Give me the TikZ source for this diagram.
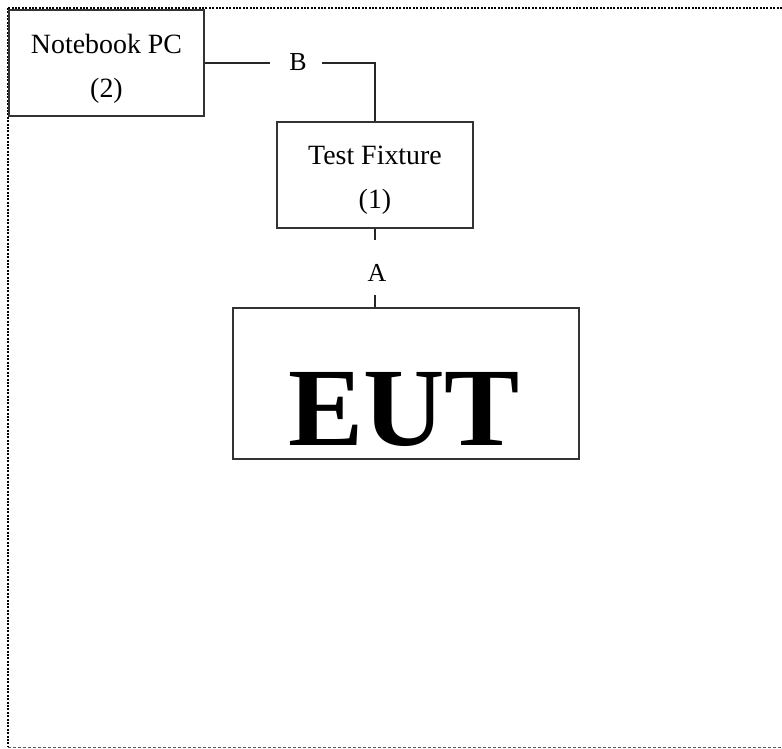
\documentclass[tikz,border=0pt]{standalone}
\usepackage{fontspec}
\setmainfont{Liberation Serif}
\usepackage{graphicx}
\begin{document}
\begin{tikzpicture}[x=1bp,y=-1bp,
  box/.style={draw=black!80,line width=1.3bp,rectangle,inner sep=0pt},
  boxtext/.style={align=center,inner sep=0pt,font=\fontsize{28}{44}\selectfont},
  lbl/.style={inner sep=0pt,font=\fontsize{26}{26}\selectfont},
  conn/.style={draw=black!85,line width=1.1bp}]
\useasboundingbox (0,0) rectangle (782,749);
% frame
\coordinate (f1) at (782,8);
\coordinate (f2) at (8,8);
\coordinate (f3) at (8,747);
\coordinate (f4) at (782,747);
\draw[line width=2bp,dash pattern=on 2bp off 1.4bp] (f1) -- (f2);
\draw[line width=2.5bp,dash pattern=on 2bp off 1.4bp] (f2) -- (f3);
\draw[black!65,line width=1bp,dash pattern=on 3bp off 2bp] (f3) -- (f4);
% boxes
\node[box,minimum width=195bp,minimum height=106bp] (nb) at (106.5,63) {};
\node[boxtext] (nbt) at (106.5,68.5) {Notebook PC\\(2)};
\node[box,minimum width=196bp,minimum height=106bp] (tf) at (375,175) {};
\node[boxtext] (tft) at (375,180.5) {Test Fixture\\(1)};
\node[box,minimum width=346bp,minimum height=151bp] (eut) at (406,383.5) {};
\node[inner sep=0pt,font=\bfseries\fontsize{112}{112}\selectfont] (eutt) at (404,409) {\scalebox{1.01}[1]{EUT}};
% labels
\node[lbl] (B) at (298,62) {B};
\node[lbl] (A) at (377,273) {A};
\coordinate (b1) at (270,63);
\coordinate (b2) at (322,63);
\coordinate (a1) at (375,240);
\coordinate (a2) at (375,295);
% connectors
\draw[conn] (nb.east) -- (b1);
\draw[conn] (b2) -| (tf.north);
\draw[conn] (tf.south) -- (a1);
\draw[conn] (a2) -- (a2 |- eut.north);
\end{tikzpicture}
\end{document}
